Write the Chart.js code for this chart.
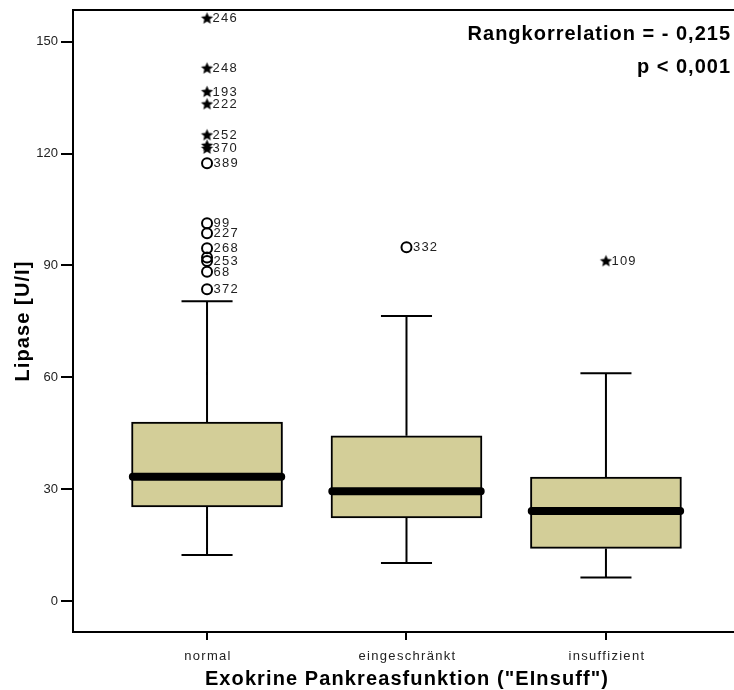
<!DOCTYPE html>
<html>
<head>
<meta charset="utf-8">
<script src="https://cdn.jsdelivr.net/npm/chart.js@4/dist/chart.umd.min.js"></script>
<style>
  html, body { margin: 0; padding: 0; background: #fff; }
</style>
</head>
<body>
<canvas id="chart" width="734" height="690"></canvas>
<script>
// Lipase by exocrine pancreatic function group
const categories = ['normal', 'eingeschränkt', 'insuffizient'];
const whiskerLow  = [12.3, 10.2, 6.3];
const quartile1   = [25.2, 22.3, 14.1];
const medians     = [33.3, 29.4, 24.1];
const quartile3   = [48.0, 44.3, 33.2];
const whiskerHigh = [80.4, 76.4, 61.1];

// Outliers: group index, value, case number, kind ('o' = outlier, '*' = extreme)
const outlierGroup = [0, 0, 0, 0, 0, 0, 0, 0, 0, 0, 0, 0, 0, 0, 0, 1, 2];
const outlierValue = [156.3, 142.9, 136.6, 133.3, 125.0, 122.2, 121.4, 117.4, 101.3, 98.6, 94.6, 92.1, 91.2, 88.3, 83.6, 94.9, 91.2];
const outlierId    = ['246', '248', '193', '222', '252', '', '370', '389', '99', '227', '268', '', '253', '68', '372', '332', '109'];
const outlierKind  = ['*', '*', '*', '*', '*', '*', '*', 'o', 'o', 'o', 'o', 'o', 'o', 'o', 'o', 'o', '*'];

const yTicks = [0, 30, 60, 90, 120, 150];

const FONT = '"Liberation Sans", Arial, Helvetica, sans-serif';
const BOX_FILL = '#d3ce98';
const BOX_PX = 151;        // box width in pixels
const MEDIAN_HALF = 0.372; // median bar half length in x units
const CAP_HALF = 0.128;    // whisker cap half length in x units

// filled five-pointed star used for extreme values
function makeStar() {
  const c = document.createElement('canvas');
  c.width = 15; c.height = 15;
  const g = c.getContext('2d');
  const cx = 7.5, cy = 7.9, ro = 6.4, ri = 2.9;
  g.beginPath();
  for (let i = 0; i < 10; i++) {
    const r = i % 2 ? ri : ro;
    const a = -Math.PI / 2 + i * Math.PI / 5;
    const px = cx + r * Math.cos(a), py = cy + r * Math.sin(a);
    i ? g.lineTo(px, py) : g.moveTo(px, py);
  }
  g.closePath();
  g.fillStyle = '#000';
  g.fill();
  return c;
}
const starImg = makeStar();

const gap = (x) => ({ x, y: null });

const whiskerPts = [];
const medianPts = [];
categories.forEach((_, i) => {
  const cx = i + 1;
  whiskerPts.push({ x: cx, y: quartile3[i] }, { x: cx, y: whiskerHigh[i] }, gap(cx));
  whiskerPts.push({ x: cx - CAP_HALF, y: whiskerHigh[i] }, { x: cx + CAP_HALF, y: whiskerHigh[i] }, gap(cx));
  whiskerPts.push({ x: cx, y: quartile1[i] }, { x: cx, y: whiskerLow[i] }, gap(cx));
  whiskerPts.push({ x: cx - CAP_HALF, y: whiskerLow[i] }, { x: cx + CAP_HALF, y: whiskerLow[i] }, gap(cx));
  medianPts.push({ x: cx - MEDIAN_HALF, y: medians[i] }, { x: cx + MEDIAN_HALF, y: medians[i] }, gap(cx));
});

const circlePts = [], starPts = [];
outlierValue.forEach((v, k) => {
  const p = { x: outlierGroup[k] + 1, y: v };
  (outlierKind[k] === 'o' ? circlePts : starPts).push(p);
});

function spacedText(ctx, text, x, y, spacing) {
  ctx.letterSpacing = spacing + 'px';
  ctx.fillText(text, x, y);
  ctx.letterSpacing = '0px';
}

const decorations = {
  id: 'decorations',
  afterDraw(chart) {
    const { ctx, chartArea: a, scales: { x, y } } = chart;
    ctx.save();
    // frame top edge
    ctx.strokeStyle = '#000';
    ctx.lineWidth = 2;
    ctx.beginPath();
    ctx.moveTo(a.left - 1, a.top);
    ctx.lineTo(a.right + 2, a.top);
    ctx.stroke();

    // case numbers beside outliers
    ctx.fillStyle = '#222';
    ctx.font = '13px ' + FONT;
    ctx.textAlign = 'left';
    ctx.textBaseline = 'middle';
    outlierValue.forEach((v, k) => {
      if (!outlierId[k]) return;
      const px = x.getPixelForValue(outlierGroup[k] + 1);
      const py = y.getPixelForValue(v);
      spacedText(ctx, outlierId[k], px + (outlierKind[k] === 'o' ? 6.5 : 5.5), py + 0.5, 1.2);
    });

    // category labels
    ctx.textAlign = 'center';
    ctx.textBaseline = 'alphabetic';
    categories.forEach((c, i) => {
      spacedText(ctx, c, x.getPixelForValue(i + 1) + 1, 660, 1.3);
    });

    // axis titles
    ctx.fillStyle = '#000';
    ctx.font = 'bold 20px ' + FONT;
    ctx.textAlign = 'center';
    spacedText(ctx, 'Exokrine Pankreasfunktion ("EInsuff")', 407, 685, 1.1);
    ctx.save();
    ctx.translate(29, 321);
    ctx.rotate(-Math.PI / 2);
    spacedText(ctx, 'Lipase [U/I]', 0, 0, 1.1);
    ctx.restore();

    // correlation note
    ctx.textAlign = 'right';
    spacedText(ctx, 'Rangkorrelation = - 0,215', 731, 40, 1.0);
    spacedText(ctx, 'p < 0,001', 731, 73, 1.0);
    ctx.restore();
  }
};

new Chart(document.getElementById('chart'), {
  type: 'line',
  data: {
    datasets: [
      {
        label: 'whiskers', type: 'line', data: whiskerPts,
        borderColor: '#000', borderWidth: 2, pointRadius: 0, spanGaps: false,
        borderCapStyle: 'butt', tension: 0, order: 5
      },
      {
        label: 'box', type: 'bar',
        data: categories.map((_, i) => ({ x: i + 1, y: [quartile1[i], quartile3[i]] })),
        backgroundColor: BOX_FILL, borderColor: '#000', borderWidth: 2,
        borderSkipped: false, barThickness: BOX_PX, order: 4
      },
      {
        label: 'median', type: 'line', data: medianPts,
        borderColor: '#000', borderWidth: 8, pointRadius: 0, spanGaps: false,
        borderCapStyle: 'round', tension: 0, order: 3
      },
      {
        label: 'outliers', type: 'line', data: circlePts, showLine: false,
        pointStyle: 'circle', pointRadius: 5, pointBorderWidth: 2,
        pointBorderColor: '#000', pointBackgroundColor: 'rgba(0,0,0,0)', order: 2
      },
      {
        label: 'extremes', type: 'line', data: starPts, showLine: false,
        pointStyle: starImg, pointRadius: 7, order: 1
      }
    ]
  },
  options: {
    responsive: false,
    animation: false,
    devicePixelRatio: 1,
    layout: { autoPadding: false, padding: { top: 10, left: 0, right: 0, bottom: 0 } },
    plugins: { legend: { display: false }, tooltip: { enabled: false } },
    scales: {
      x: {
        type: 'linear', min: 0.328, max: 3.642, offset: false,
        afterBuildTicks: (s) => { s.ticks = categories.map((_, i) => ({ value: i + 1 })); },
        afterFit: (s) => { s.height = 58; s.paddingLeft = 0; s.paddingRight = 0; },
        ticks: { display: false },
        grid: { drawOnChartArea: false, drawTicks: true, tickLength: 8, color: '#000', lineWidth: 2, offset: false },
        border: { display: true, color: '#000', width: 2 }
      },
      y: {
        type: 'linear', min: -8.32, max: 158.5,
        afterBuildTicks: (s) => { s.ticks = yTicks.map(v => ({ value: v })); },
        afterFit: (s) => { s.width = 73; s.paddingTop = 0; s.paddingBottom = 0; },
        ticks: { color: '#222', font: { family: FONT, size: 13 }, padding: 3 },
        grid: { drawOnChartArea: false, drawTicks: true, tickLength: 12, color: '#000', lineWidth: 2 },
        border: { display: true, color: '#000', width: 2 }
      }
    }
  },
  plugins: [decorations]
});
</script>
</body>
</html>
